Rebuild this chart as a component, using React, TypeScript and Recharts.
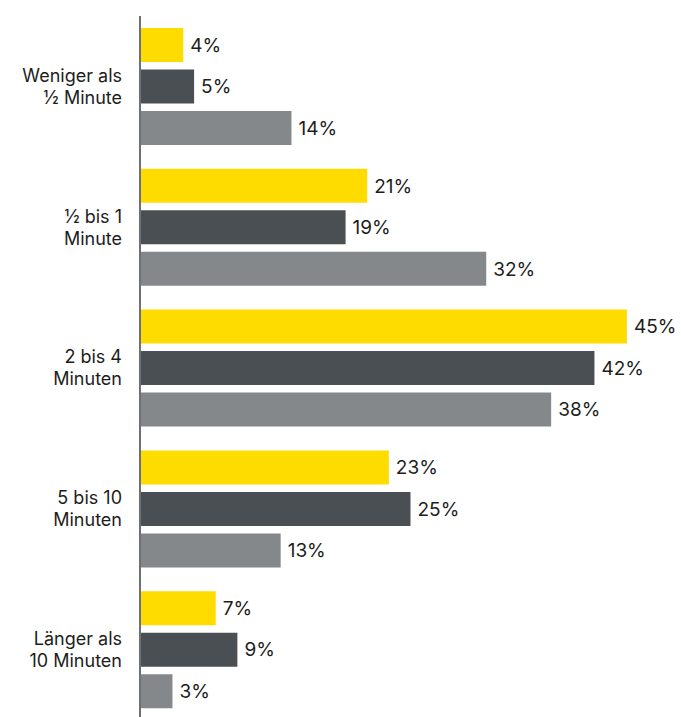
import { BarChart, Bar, XAxis, YAxis, LabelList } from 'recharts';

const categories = [
  'Weniger als\n½ Minute',
  '½ bis 1\nMinute',
  '2 bis 4\nMinuten',
  '5 bis 10\nMinuten',
  'Länger als\n10 Minuten',
];
const seriesA = [4, 21, 45, 23, 7];
const seriesB = [5, 19, 42, 25, 9];
const seriesC = [14, 32, 38, 13, 3];

const data = categories.map((name, i) => ({
  name,
  a: seriesA[i],
  b: seriesB[i],
  c: seriesC[i],
}));

const FONT = 'Inter, "Open Sans", sans-serif';

const CategoryTick = (props: any) => {
  const { x, y, payload } = props;
  const lines = String(payload.value).split('\n');
  const lineHeight = 22;
  const startY = y - ((lines.length - 1) * lineHeight) / 2;
  return (
    <text x={x} y={startY} textAnchor="end" fill="#1d1d1b" fontSize={18} fontFamily={FONT}>
      {lines.map((line, i) => (
        <tspan key={i} x={x} y={startY + i * lineHeight} dy="0.35em">
          {line}
        </tspan>
      ))}
    </text>
  );
};

const pct = (v: any) => `${v}%`;

export default function App() {
  return (
    <div style={{ position: 'fixed', left: 0, top: 0, width: 681, height: 717, overflow: 'hidden', background: '#fff' }}>
      <BarChart
        width={681}
        height={720}
        data={data}
        layout="vertical"
        margin={{ top: 16, right: 0, bottom: 0, left: 0 }}
        barSize={34}
        barGap={7.5}
      >
        <XAxis type="number" domain={[0, 50]} hide />
        <YAxis
          type="category"
          dataKey="name"
          width={140}
          tickLine={false}
          axisLine={{ stroke: '#6f7072', strokeWidth: 2 }}
          tick={<CategoryTick />}
          tickMargin={12}
          interval={0}
        />
        <Bar dataKey="a" fill="#ffdc00" isAnimationActive={false}>
          <LabelList dataKey="a" position="right" offset={7} formatter={pct} fill="#1d1d1b" fontSize={19} fontFamily={FONT} />
        </Bar>
        <Bar dataKey="b" fill="#4a4f53" isAnimationActive={false}>
          <LabelList dataKey="b" position="right" offset={7} formatter={pct} fill="#1d1d1b" fontSize={19} fontFamily={FONT} />
        </Bar>
        <Bar dataKey="c" fill="#84888b" isAnimationActive={false}>
          <LabelList dataKey="c" position="right" offset={7} formatter={pct} fill="#1d1d1b" fontSize={19} fontFamily={FONT} />
        </Bar>
      </BarChart>
    </div>
  );
}
